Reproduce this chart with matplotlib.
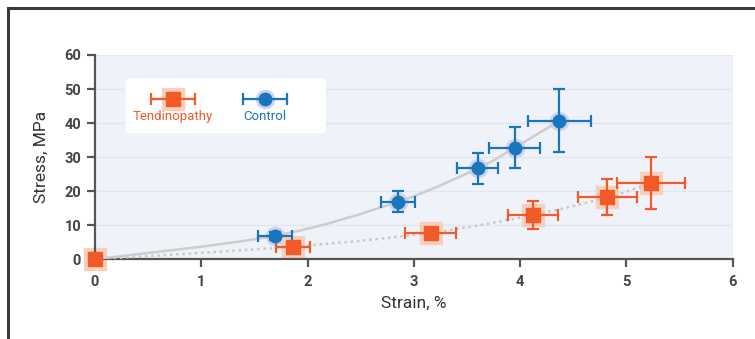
import matplotlib
matplotlib.use('Agg')
import matplotlib.pyplot as plt
from matplotlib.path import Path
from matplotlib.patches import PathPatch, FancyBboxPatch
from matplotlib.lines import Line2D

plt.rcParams['font.family'] = ['Roboto', 'DejaVu Sans']

# data
ctrl_x = [0, 1.69, 2.85, 3.60, 3.95, 4.37]
ctrl_y = [0, 6.9, 16.9, 26.7, 32.8, 40.7]
ctrl_xerr = [0, 0.16, 0.16, 0.19, 0.24, 0.30]
ctrl_yerr = [0, 1.2, 3.1, 4.6, 6.1, 9.3]

tend_x = [0, 1.86, 3.16, 4.12, 4.82, 5.23]
tend_y = [0, 3.7, 7.8, 13.0, 18.2, 22.3]
tend_xerr = [0, 0.16, 0.24, 0.235, 0.28, 0.32]
tend_yerr = [0, 1.0, 1.0, 4.0, 5.3, 7.6]

x_ticks = [0, 1, 2, 3, 4, 5, 6]
y_ticks = [0, 10, 20, 30, 40, 50, 60]

BLUE = '#1b75bc'
BLUE_HALO = '#cad4ee'
ORANGE = '#f15a29'
ORANGE_HALO = '#f9cfbb'
AXC = '#555555'


def spline_path(xs, ys):
    # catmull-rom -> cubic bezier segments through the points
    pts = list(zip(xs, ys))
    verts = [pts[0]]
    codes = [Path.MOVETO]
    n = len(pts)
    for i in range(n - 1):
        p0 = pts[i - 1] if i > 0 else pts[i]
        p1 = pts[i]
        p2 = pts[i + 1]
        p3 = pts[i + 2] if i + 2 < n else pts[i + 1]
        c1 = (p1[0] + (p2[0] - p0[0]) / 6, p1[1] + (p2[1] - p0[1]) / 6)
        c2 = (p2[0] - (p3[0] - p1[0]) / 6, p2[1] - (p3[1] - p1[1]) / 6)
        verts += [c1, c2, p2]
        codes += [Path.CURVE4] * 3
    return Path(verts, codes)


fig = plt.figure(figsize=(7.55, 3.39), dpi=100)
ax = fig.add_axes([95 / 755, 1 - 259.3 / 339, 637.7 / 755, 204.3 / 339])
ax.set_facecolor('#eff2f8')

ax.set_xlim(0, 6)
ax.set_ylim(0, 60)
ax.set_xticks(x_ticks)
ax.set_yticks(y_ticks)
ax.yaxis.grid(True, color='#e3e6ee', linewidth=1)
ax.set_axisbelow(True)

for s in ['top', 'right']:
    ax.spines[s].set_visible(False)
for s in ['left', 'bottom']:
    ax.spines[s].set_color(AXC)
    ax.spines[s].set_linewidth(1.6)
ax.tick_params(axis='both', colors=AXC, width=1.6, length=6, labelsize=10.5)
ax.tick_params(axis='y', pad=4)
ax.tick_params(axis='x', pad=5)
for lab in ax.get_xticklabels() + ax.get_yticklabels():
    lab.set_fontweight('bold')
    lab.set_color('#444444')

ax.set_xlabel('Strain, %', fontsize=12.5, color='#333333', labelpad=5)
ax.set_ylabel('Stress, MPa', fontsize=12.5, color='#333333', labelpad=11)

# halos below the curves
ax.plot(ctrl_x[1:], ctrl_y[1:], 'o', ms=13, color=BLUE_HALO, zorder=2)
ax.plot(tend_x, tend_y, 's', ms=16, color=ORANGE_HALO, zorder=2, clip_on=False)

# fitted curves
ax.add_patch(PathPatch(spline_path(ctrl_x, ctrl_y), fill=False,
                       edgecolor='#cdcdcd', lw=1.8, zorder=3))
ax.add_patch(PathPatch(spline_path(tend_x, tend_y), fill=False,
                       edgecolor='#c8c8c8', lw=1.8, linestyle=(0, (1, 1.5)), zorder=3))

# control series
ax.errorbar(ctrl_x[1:], ctrl_y[1:], xerr=ctrl_xerr[1:], yerr=ctrl_yerr[1:], fmt='none',
            ecolor=BLUE, elinewidth=1.6, capsize=4, capthick=1.6, zorder=4)
ax.plot(ctrl_x[1:], ctrl_y[1:], 'o', ms=9, color=BLUE, zorder=5)

# tendinopathy series
ax.errorbar(tend_x[1:], tend_y[1:], xerr=tend_xerr[1:], yerr=tend_yerr[1:], fmt='none',
            ecolor=ORANGE, elinewidth=1.6, capsize=4, capthick=1.6, zorder=4)
ax.plot(tend_x, tend_y, 's', ms=10, color=ORANGE, zorder=6, clip_on=False)

# legend box
box = FancyBboxPatch((0.048, 0.617), 0.314, 0.269, boxstyle='round,pad=0,rounding_size=0.01',
                     transform=ax.transAxes, facecolor='white', edgecolor='none', zorder=7)
ax.add_patch(box)
leg = [('Tendinopathy', 0.122, 's', ORANGE, ORANGE_HALO, 10, 16),
       ('Control', 0.267, 'o', BLUE, BLUE_HALO, 9, 13)]
for name, lx, mk, col, halo, ms, hs in leg:
    ly = 0.785
    ax.plot([lx], [ly], mk, ms=hs, color=halo, transform=ax.transAxes, zorder=8)
    ax.plot([lx - 0.0345, lx + 0.0345], [ly, ly], color=col, lw=1.6,
            transform=ax.transAxes, zorder=8)
    ax.plot([lx - 0.0345, lx + 0.0345], [ly, ly], '|', color=col, ms=8, mew=1.6,
            transform=ax.transAxes, zorder=8)
    ax.plot([lx], [ly], mk, ms=ms, color=col, transform=ax.transAxes, zorder=9)
    ax.text(lx, 0.697, name, color=col, fontsize=9.5, ha='center', va='center',
            transform=ax.transAxes, zorder=9)

# outer frame lines (top and left)
fig.add_artist(Line2D([8 / 755, 1], [1 - 8 / 339, 1 - 8 / 339], color='#3a3a3a', lw=2.2))
fig.add_artist(Line2D([8 / 755, 8 / 755], [0, 1 - 8 / 339], color='#3a3a3a', lw=2.2))

fig.savefig('out.png', dpi=100)
